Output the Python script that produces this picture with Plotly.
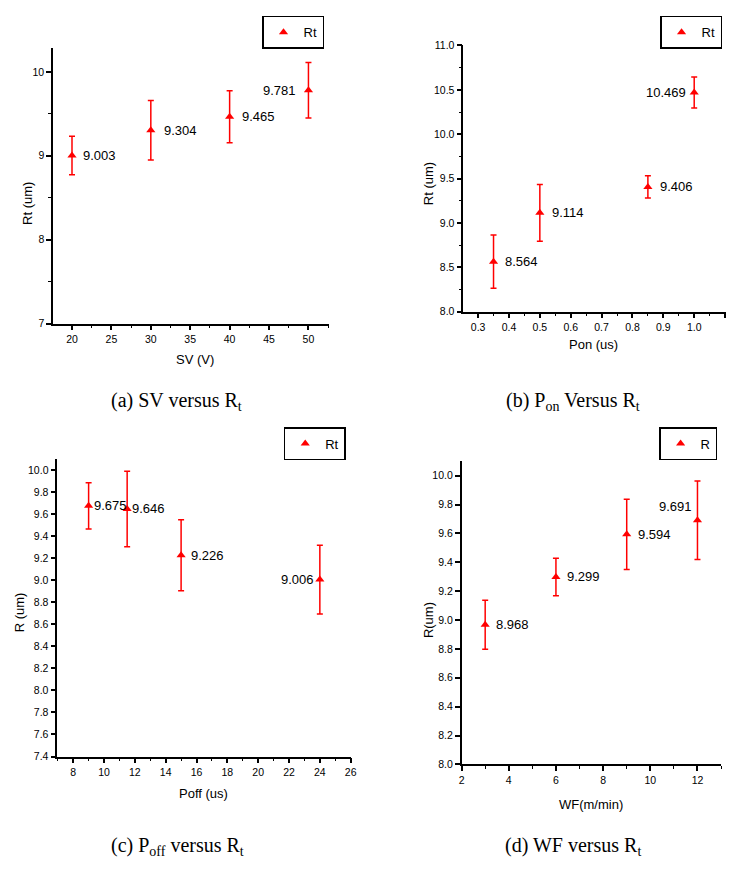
import plotly.graph_objects as go

# ---- data -------------------------------------------------------------
sv = [20, 30, 40, 50]
rt_sv = [9.003, 9.304, 9.465, 9.781]
err_sv = [0.23, 0.355, 0.31, 0.33]

pon = [0.35, 0.5, 0.85, 1.0]
rt_pon = [8.564, 9.114, 9.406, 10.469]
err_pon = [0.30, 0.32, 0.125, 0.175]

poff = [9, 11.5, 15, 24]
rt_poff = [9.675, 9.646, 9.226, 9.006]
err_poff = [0.21, 0.343, 0.322, 0.312]

wf = [3, 6, 9, 12]
rt_wf = [8.968, 9.299, 9.594, 9.691]
err_wf = [0.17, 0.13, 0.243, 0.272]

W, H = 732, 870
RED = "#ff0000"
SANS = "Arial, Liberation Sans, sans-serif"
SERIF = "Times New Roman, Liberation Serif, serif"


def px(x):
    return x / W


def py(y):
    return 1 - y / H


# per-panel layout: axis pixel boxes, ranges, ticks, titles, label offsets
panels = [
    dict(x=sv, y=rt_sv, e=err_sv, legend_name="Rt",
         box=(50.7, 43, 330, 322), xr=[17.6, 52.6], yr=[7, 10.28],
         xt=dict(dtick=5, tick0=0, minor=2.5, fmt=""),
         yt=dict(dtick=1, tick0=7, minor=0.5, fmt=""),
         xtitle="SV (V)", xtitle_pos=(194, 358),
         ytitle="Rt (um)", ytitle_pos=(25, 200),
         legend_pos=(325, 10),
         offsets=[(9, 0, "left"), (11, 0, "left"), (10, 0, "left"), (-10, 0, "right")],
         caption="(a) SV versus R<sub>t</sub>", caption_pos=(176, 401)),
    dict(x=pon, y=rt_pon, e=err_pon, legend_name="Rt",
         box=(466, 40, 732, 310), xr=[0.252, 1.103], yr=[8.0, 11.0],
         xt=dict(dtick=0.1, tick0=0, minor=0.05, fmt=".1f"),
         yt=dict(dtick=0.5, tick0=8, minor=0.25, fmt=".1f"),
         xtitle="Pon (us)", xtitle_pos=(598, 343),
         ytitle="Rt (um)", ytitle_pos=(431, 180),
         legend_pos=(728, 10),
         offsets=[(9, 0, "left"), (10, 0, "left"), (10, 0, "left"), (-6, 0, "right")],
         caption="(b) P<sub>on</sub> Versus R<sub>t</sub>", caption_pos=(577, 401)),
    dict(x=poff, y=rt_poff, e=err_poff, legend_name="Rt",
         box=(55, 459.3, 352, 761), xr=[6.97, 26], yr=[7.4, 10.1],
         xt=dict(dtick=2, tick0=0, minor=1, fmt=""),
         yt=dict(dtick=0.2, tick0=7.4, minor=None, fmt=".1f"),
         xtitle="Poff (us)", xtitle_pos=(203, 799),
         ytitle="R (um)", ytitle_pos=(17, 615),
         legend_pos=(347, 427),
         offsets=[(3, 0, "left"), (3, 0, "left"), (8, 0, "left"), (-4, 0, "right")],
         caption="(c) P<sub>off</sub> versus R<sub>t</sub>", caption_pos=(177, 852)),
    dict(x=wf, y=rt_wf, e=err_wf, legend_name="R",
         box=(464.3, 461.7, 727, 769), xr=[2, 13], yr=[8.0, 10.1],
         xt=dict(dtick=2, tick0=0, minor=1, fmt=""),
         yt=dict(dtick=0.2, tick0=8, minor=None, fmt=".1f"),
         xtitle="WF(m/min)", xtitle_pos=(595, 810),
         ytitle="R(um)", ytitle_pos=(431, 623),
         legend_pos=(723, 427),
         offsets=[(9, 0, "left"), (9, 0, "left"), (9, 0, "left"), (-3, 14, "right")],
         caption="(d) WF versus R<sub>t</sub>", caption_pos=(577, 852)),
]

fig = go.Figure()
annotations = []
layout = dict(
    width=W, height=H,
    margin=dict(l=0, r=0, t=0, b=0),
    paper_bgcolor="white", plot_bgcolor="white",
    font=dict(family=SANS, color="black"),
)

for i, p in enumerate(panels, start=1):
    sfx = "" if i == 1 else str(i)
    lg = "legend" if i == 1 else f"legend{i}"
    fig.add_trace(go.Scatter(
        x=p["x"], y=p["y"], mode="markers", name=p["legend_name"],
        marker=dict(symbol="triangle-up", size=8, color=RED),
        error_y=dict(type="data", array=p["e"], visible=True,
                     color=RED, thickness=1.5, width=3),
        xaxis=f"x{sfx}", yaxis=f"y{sfx}", legend=lg,
    ))

    x0, y0, x1, y1 = p["box"]
    axis_common = dict(
        showline=True, linecolor="black", linewidth=1.5,
        showgrid=False, zeroline=False, ticks="outside",
        ticklen=5, tickwidth=1.5, tickcolor="black",
        tickfont=dict(family=SANS, size=10.5, color="black"),
    )
    xminor = dict(dtick=p["xt"]["minor"], ticks="outside", ticklen=3,
                  tickwidth=1.2, tickcolor="black", showgrid=False)
    layout[f"xaxis{sfx}"] = dict(
        axis_common, domain=[px(x0), min(px(x1), 1.0)], range=p["xr"],
        anchor=f"y{sfx}", dtick=p["xt"]["dtick"], tick0=p["xt"]["tick0"],
        tickformat=p["xt"]["fmt"], minor=xminor,
    )
    yaxis = dict(
        axis_common, domain=[py(y1), py(y0)], range=p["yr"],
        anchor=f"x{sfx}", dtick=p["yt"]["dtick"], tick0=p["yt"]["tick0"],
        tickformat=p["yt"]["fmt"],
    )
    if p["yt"]["minor"]:
        yaxis["minor"] = dict(dtick=p["yt"]["minor"], ticks="outside",
                              ticklen=3, tickwidth=1.2, tickcolor="black",
                              showgrid=False)
    layout[f"yaxis{sfx}"] = yaxis

    layout[lg] = dict(
        x=px(p["legend_pos"][0]), y=py(p["legend_pos"][1]),
        xanchor="right", yanchor="top",
        bordercolor="black", borderwidth=1.5, bgcolor="white",
        font=dict(family=SANS, size=13, color="black"),
        itemwidth=30, tracegroupgap=0,
    )

    # value labels beside each point
    for xv, yv, (dx, dy, anc) in zip(p["x"], p["y"], p["offsets"]):
        annotations.append(dict(
            x=xv, y=yv, xref=f"x{sfx}", yref=f"y{sfx}",
            text=f"{yv:.3f}", showarrow=False, xanchor=anc, yanchor="middle",
            xshift=dx, yshift=dy,
            font=dict(family=SANS, size=13, color="black"),
        ))

    # axis titles
    annotations.append(dict(
        x=px(p["xtitle_pos"][0]), y=py(p["xtitle_pos"][1]),
        xref="paper", yref="paper", text=p["xtitle"], showarrow=False,
        xanchor="center", yanchor="middle",
        font=dict(family=SANS, size=13, color="black"),
    ))
    annotations.append(dict(
        x=px(p["ytitle_pos"][0]), y=py(p["ytitle_pos"][1]),
        xref="paper", yref="paper", text=p["ytitle"], showarrow=False,
        xanchor="center", yanchor="middle", textangle=-90,
        font=dict(family=SANS, size=13, color="black"),
    ))

    # panel caption
    annotations.append(dict(
        x=px(p["caption_pos"][0]), y=py(p["caption_pos"][1]),
        xref="paper", yref="paper", text=p["caption"], showarrow=False,
        xanchor="center", yanchor="middle",
        font=dict(family=SERIF, size=20, color="black"),
    ))

layout["annotations"] = annotations
layout["showlegend"] = True
fig.update_layout(**layout)

fig.write_html("out.html")
